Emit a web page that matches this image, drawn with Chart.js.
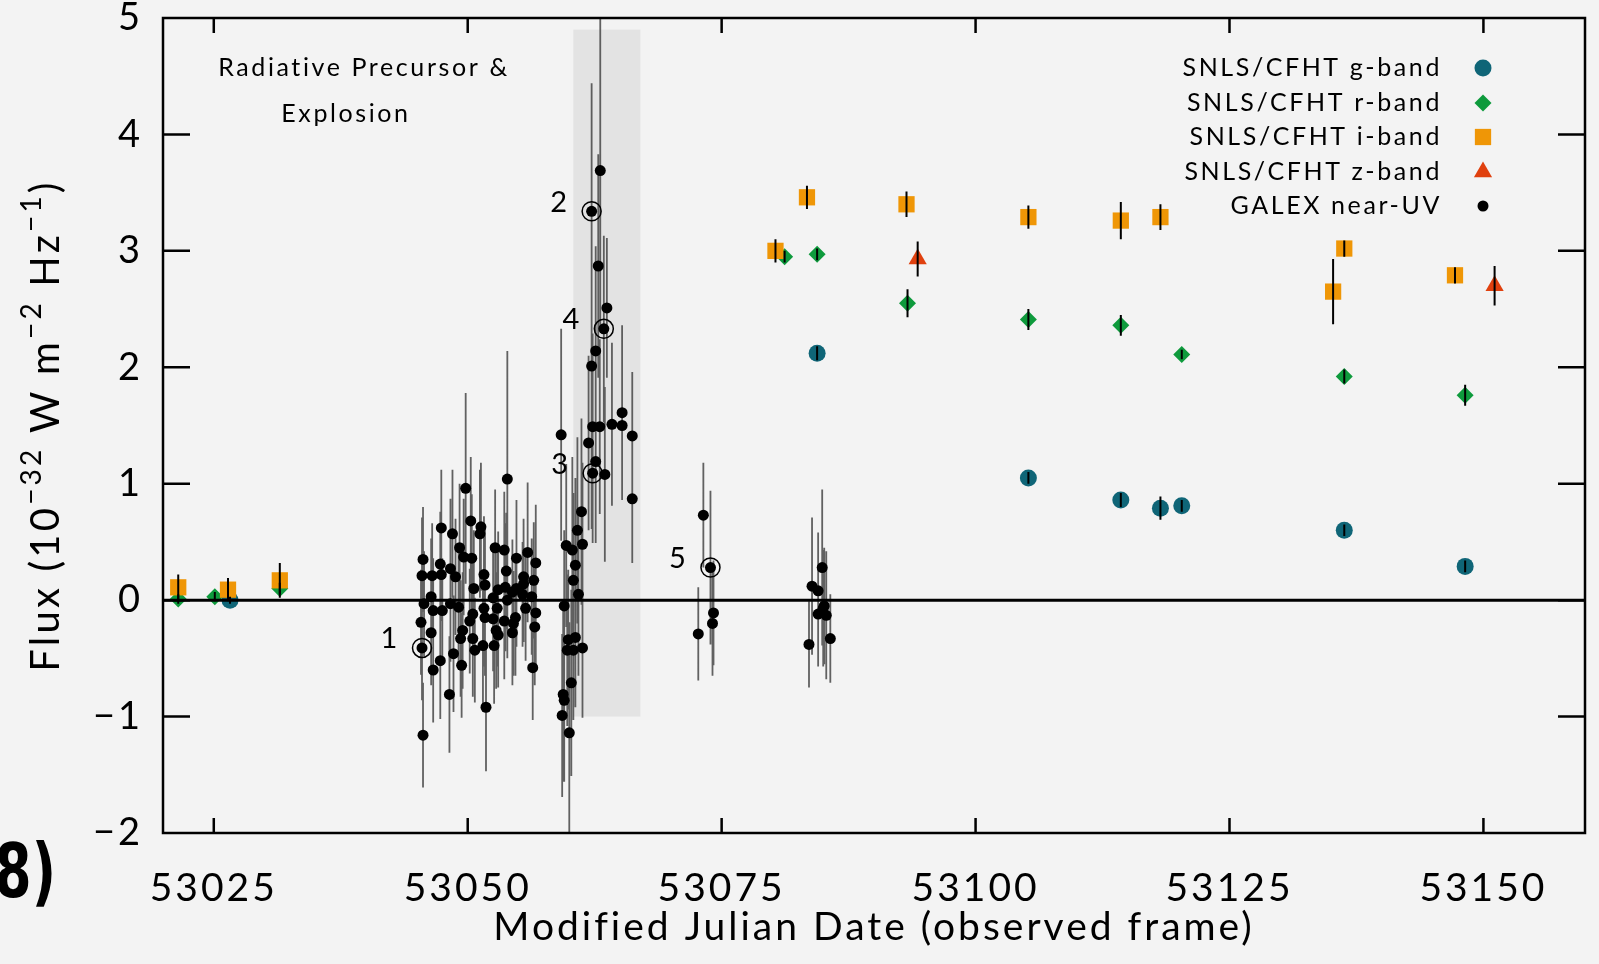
<!DOCTYPE html>
<html>
<head>
<meta charset="utf-8">
<script src="https://cdn.jsdelivr.net/npm/chart.js@4.4.1/dist/chart.umd.min.js"></script>
<style>
    html, body { margin: 0; padding: 0; background: #f3f3f3; }
    #wrap { width: 1599px; height: 964px; }
</style>
</head>
<body>
<div id="wrap"><canvas id="grafico" width="1599" height="964"></canvas></div>
<script>
// eixos
const xTicks = [53025, 53050, 53075, 53100, 53125, 53150];
const yTicks = [-2, -1, 0, 1, 2, 3, 4, 5];

// SNLS/CFHT
const gX = [53026.6, 53084.4, 53105.2, 53114.3, 53118.2, 53120.3, 53136.3, 53148.2];
const gY = [0.00, 2.12, 1.05, 0.86, 0.79, 0.81, 0.60, 0.29];
const gErr = [0.03, 0.06, 0.05, 0.06, 0.10, 0.05, 0.05, 0.05];

const rX = [53021.5, 53025.1, 53031.5, 53081.2, 53084.4, 53093.3, 53105.2, 53114.3, 53120.3, 53136.3, 53148.2];
const rY = [0.01, 0.03, 0.10, 2.95, 2.97, 2.55, 2.41, 2.36, 2.11, 1.92, 1.76];
const rErr = [0.04, 0.04, 0.05, 0.05, 0.05, 0.12, 0.09, 0.09, 0.04, 0.06, 0.09];

const iX = [53021.5, 53026.4, 53031.5, 53080.3, 53083.4, 53093.2, 53105.2, 53114.3, 53118.2, 53135.2, 53136.3, 53147.2];
const iY = [0.11, 0.09, 0.17, 3.00, 3.46, 3.40, 3.29, 3.26, 3.29, 2.65, 3.02, 2.79];
const iErr = [0.11, 0.10, 0.15, 0.10, 0.10, 0.11, 0.10, 0.16, 0.11, 0.28, 0.07, 0.07];

const zX = [53094.3, 53151.1];
const zY = [2.93, 2.70];
const zErr = [0.15, 0.17];

// GALEX near-UV
const uvX = [
    53045.6, 53045.5, 53045.7, 53045.4, 53045.5, 53045.6,
    53046.5, 53046.4, 53046.6, 53046.4, 53046.6,
    53047.4, 53047.3, 53047.4, 53047.5, 53047.3,
    53048.5, 53048.3, 53048.8, 53048.3, 53048.6, 53048.2,
    53049.8, 53049.2, 53049.6, 53049.1, 53049.5, 53049.3, 53049.4,
    53050.3, 53050.4, 53050.6, 53050.5, 53050.2, 53050.5, 53050.7,
    53051.3, 53051.2, 53051.6, 53051.7, 53051.6, 53051.7, 53051.5, 53051.8,
    53052.7, 53053.0, 53052.5, 53052.9, 53052.5, 53052.8, 53053.0, 53052.6,
    53053.9, 53053.6, 53053.8, 53053.7, 53053.9, 53053.6,
    53054.8, 53054.4, 53054.8, 53054.7, 53054.5, 53054.4,
    53055.5, 53055.5, 53055.4, 53055.7, 53055.9,
    53056.7, 53056.5, 53056.3, 53056.7, 53056.6, 53056.4,
    53059.2, 53062.3, 53063.0, 53064.2, 53065.2, 53065.2, 53066.2, 53061.9, 53062.6, 53062.3,
    53063.5, 53066.2, 53061.2, 53060.8, 53059.7, 53060.3, 53061.3, 53060.6, 53060.4, 53060.9,
    53059.5, 53059.9, 53060.6, 53059.8, 53060.4, 53061.3, 53060.2, 53059.4, 53059.5, 53059.3, 53060.0,
    53063.05, 53062.2, 53062.85, 53063.7, 53063.4, 53062.6, 53062.2,
    53073.2, 53073.9, 53074.2, 53074.1, 53072.7,
    53083.6, 53083.9, 53084.5, 53084.9, 53085.1, 53084.5, 53085.3, 53085.7, 53085.0
];
const uvY = [
    0.35, 0.21, -0.03, -0.19, -0.41, -1.16,
    0.21, 0.03, -0.09, -0.28, -0.60,
    0.62, 0.31, 0.22, -0.09, -0.52,
    0.57, 0.27, 0.20, -0.03, -0.46, -0.81,
    0.96, 0.45, 0.37, -0.06, -0.26, -0.33, -0.56,
    0.68, 0.36, 0.10, -0.12, -0.18, -0.33, -0.43,
    0.63, 0.57, 0.22, 0.13, -0.07, -0.15, -0.39, -0.92,
    0.45, 0.09, 0.02, -0.07, -0.16, -0.26, -0.30, -0.39,
    1.04, 0.43, 0.25, 0.11, 0.00, -0.18,
    0.36, 0.07, 0.10, -0.15, -0.20, -0.28,
    0.20, 0.14, 0.05, -0.07, 0.41,
    0.32, 0.17, 0.03, -0.11, -0.23, -0.58,
    1.42, 1.49, 1.49, 1.51, 1.61, 1.50, 1.41, 1.35, 1.19, 1.09,
    1.08, 0.87, 0.76, 0.60, 0.47, 0.43, 0.48, 0.30, 0.17, 0.05,
    -0.05, -0.34, -0.32, -0.43, -0.43, -0.41, -0.71, -0.81, -0.86, -0.99, -1.14,
    3.69, 3.34, 2.87, 2.51, 2.33, 2.14, 2.01,
    0.73, 0.28, -0.11, -0.20, -0.29,
    -0.38, 0.12, 0.08, 0.28, -0.05, -0.12, -0.13, -0.33, -0.07
];
const uvErr = [
    0.45, 0.50, 0.45, 0.45, 0.45, 0.45,
    0.45, 0.50, 0.45, 0.45, 0.45,
    0.50, 0.45, 0.40, 0.45, 0.50,
    0.55, 0.60, 0.50, 0.50, 0.50, 0.50,
    0.82, 0.55, 0.50, 0.50, 0.50, 0.50, 0.45,
    0.55, 0.55, 0.50, 0.50, 0.45, 0.50, 0.45,
    0.55, 0.55, 0.50, 0.50, 0.50, 0.50, 0.50, 0.55,
    0.50, 0.50, 0.45, 0.50, 0.45, 0.50, 0.45, 0.50,
    1.10, 0.50, 0.50, 0.55, 0.50, 0.50,
    0.50, 0.45, 0.50, 0.50, 0.45, 0.45,
    0.50, 0.50, 0.45, 0.45, 0.60,
    0.50, 0.50, 0.50, 0.50, 0.50, 0.45,
    0.91, 0.80, 0.75, 0.70, 0.75, 0.55, 0.55, 0.75, 0.70, 0.60,
    0.75, 0.55, 0.80, 0.80, 0.70, 0.80, 0.70, 0.75, 0.75, 0.70,
    0.65, 0.60, 0.60, 0.65, 0.60, 0.60, 0.80, 0.75, 0.70, 0.70, 0.95,
    1.35, 1.10, 0.96, 0.60, 0.80, 0.90, 1.40,
    0.45, 0.66, 0.45, 0.45, 0.40,
    0.37, 0.59, 0.50, 0.67, 0.50, 0.45, 0.55, 0.38, 0.50
];

// pontos marcados 1-5
const marcX = [53045.5, 53062.2, 53062.3, 53063.4, 53073.9];
const marcY = [-0.41, 3.34, 1.09, 2.33, 0.28];
const marcNome = ['1', '2', '3', '4', '5'];

// faixa cinza
const faixaX = [53060.4, 53067.0];
const faixaY = [-1.0, 4.9];

const FONTE = 'Lato, "DejaVu Sans", sans-serif';

function pontos(xs, ys) {
    return xs.map((v, i) => ({ x: v, y: ys[i] }));
}

function barrasErro(chart, ds, cor, largura) {
    const { ctx, chartArea: a, scales: { x, y } } = chart;
    ctx.save();
    ctx.beginPath();
    ctx.rect(a.left, a.top, a.width, a.height);
    ctx.clip();
    ctx.strokeStyle = cor;
    ctx.lineWidth = largura;
    ctx.beginPath();
    ds.data.forEach((p, i) => {
        const px = x.getPixelForValue(p.x);
        ctx.moveTo(px, y.getPixelForValue(p.y - ds.erros[i]));
        ctx.lineTo(px, y.getPixelForValue(p.y + ds.erros[i]));
    });
    ctx.stroke();
    ctx.restore();
}

const desenhos = {
    id: 'desenhos',
    beforeDraw(chart) {
        const { ctx, scales: { x, y } } = chart;
        // espacamento das letras para os textos do Chart.js (ticks e titulo)
        ctx.letterSpacing = '3px';
        const x0 = x.getPixelForValue(faixaX[0]);
        const x1 = x.getPixelForValue(faixaX[1]);
        const y0 = y.getPixelForValue(faixaY[1]);
        const y1 = y.getPixelForValue(faixaY[0]);
        ctx.save();
        ctx.fillStyle = '#e3e3e3';
        ctx.fillRect(x0, y0, x1 - x0, y1 - y0);
        ctx.restore();
    },
    beforeDatasetsDraw(chart) {
        chart.data.datasets.forEach(ds => {
            if (ds.label === 'GALEX near-UV') barrasErro(chart, ds, 'rgba(70,70,70,0.85)', 1.8);
        });
    },
    afterDatasetsDraw(chart) {
        const { ctx, chartArea: a, scales: { x, y } } = chart;

        chart.data.datasets.forEach(ds => {
            if (ds.label !== 'GALEX near-UV') barrasErro(chart, ds, '#000', 2);
        });

        ctx.save();
        ctx.strokeStyle = '#000';

        // linha do zero
        ctx.lineWidth = 3;
        ctx.beginPath();
        ctx.moveTo(a.left, y.getPixelForValue(0));
        ctx.lineTo(a.right, y.getPixelForValue(0));
        ctx.stroke();

        // moldura
        ctx.lineWidth = 2.5;
        ctx.strokeRect(a.left, a.top, a.right - a.left, a.bottom - a.top);

        // marcas para dentro
        ctx.beginPath();
        x.ticks.forEach(t => {
            const px = x.getPixelForValue(t.value);
            ctx.moveTo(px, a.bottom); ctx.lineTo(px, a.bottom - 15);
            ctx.moveTo(px, a.top); ctx.lineTo(px, a.top + 15);
        });
        y.ticks.forEach(t => {
            if (t.value <= y.min || t.value >= y.max) return;
            const py = y.getPixelForValue(t.value);
            ctx.moveTo(a.left, py); ctx.lineTo(a.left + 27, py);
            ctx.moveTo(a.right, py); ctx.lineTo(a.right - 27, py);
        });
        ctx.stroke();

        // circulos e numeros
        ctx.lineWidth = 1.5;
        ctx.fillStyle = '#000';
        ctx.letterSpacing = '0px';
        ctx.font = '29px ' + FONTE;
        ctx.textAlign = 'center';
        ctx.textBaseline = 'middle';
        marcX.forEach((v, i) => {
            const px = x.getPixelForValue(v);
            const py = y.getPixelForValue(marcY[i]);
            ctx.beginPath();
            ctx.arc(px, py, 9.5, 0, Math.PI * 2);
            ctx.stroke();
            ctx.fillText(marcNome[i], px - 33, py - 9);
        });

        // texto
        ctx.letterSpacing = '2.6px';
        ctx.font = '25px ' + FONTE;
        ctx.fillText('Radiative Precursor &', a.left + 201, a.top + 50);
        ctx.fillText('Explosion', a.left + 183, a.top + 96);

        // legenda
        const linhas = [50, 85, 119, 154, 188];
        ctx.textAlign = 'right';
        chart.data.datasets.forEach((ds, i) => {
            const ly = a.top + linhas[i];
            ctx.fillStyle = '#000';
            ctx.fillText(ds.label, a.right - 143, ly);
            ctx.fillStyle = ds.backgroundColor;
            Chart.helpers.drawPoint(ctx, {
                pointStyle: ds.pointStyle,
                radius: ds.pointRadius,
                rotation: 0,
                borderWidth: 0
            }, a.right - 102, ly);
        });

        // titulo do eixo y com expoentes
        const partes = [['Flux (10', 0], ['−32', 1], [' W m', 0], ['−2', 1], [' Hz', 0], ['−1', 1], [')', 0]];
        const fN = '40px ' + FONTE, fS = '28px ' + FONTE;
        ctx.letterSpacing = '3.2px';
        let total = 0;
        partes.forEach(p => { ctx.font = p[1] ? fS : fN; total += ctx.measureText(p[0]).width; });
        ctx.translate(46, (a.top + a.bottom) / 2);
        ctx.rotate(-Math.PI / 2);
        ctx.textAlign = 'left';
        ctx.fillStyle = '#000';
        let cx = -total / 2;
        partes.forEach(p => {
            ctx.font = p[1] ? fS : fN;
            ctx.fillText(p[0], cx, p[1] ? -14 : 0);
            cx += ctx.measureText(p[0]).width;
        });
        ctx.restore();

        // rotulo do painel
        ctx.save();
        ctx.letterSpacing = '0px';
        ctx.fillStyle = '#000';
        ctx.font = 'bold 74px "DejaVu Sans", sans-serif';
        ctx.textAlign = 'right';
        ctx.textBaseline = 'middle';
        ctx.translate(56, 878);
        ctx.scale(0.72, 1);
        ctx.fillText('8)', 0, 0);
        ctx.restore();
    }
};

const ctx = document.getElementById('grafico');

new Chart(ctx, {
    type: 'scatter',
    data: {
        datasets: [
            {
                label: 'SNLS/CFHT g-band',
                data: pontos(gX, gY),
                erros: gErr,
                backgroundColor: '#0f6577',
                pointStyle: 'circle',
                pointRadius: 8.5,
                borderWidth: 0,
                order: 3
            },
            {
                label: 'SNLS/CFHT r-band',
                data: pontos(rX, rY),
                erros: rErr,
                backgroundColor: '#0e9a3c',
                pointStyle: 'rectRot',
                pointRadius: 8.5,
                borderWidth: 0,
                order: 2
            },
            {
                label: 'SNLS/CFHT i-band',
                data: pontos(iX, iY),
                erros: iErr,
                backgroundColor: '#ef9606',
                pointStyle: 'rect',
                pointRadius: 11.5,
                borderWidth: 0,
                order: 0
            },
            {
                label: 'SNLS/CFHT z-band',
                data: pontos(zX, zY),
                erros: zErr,
                backgroundColor: '#e0400e',
                pointStyle: 'triangle',
                pointRadius: 10.5,
                borderWidth: 0,
                order: 1
            },
            {
                label: 'GALEX near-UV',
                data: pontos(uvX, uvY),
                erros: uvErr,
                backgroundColor: '#000',
                pointStyle: 'circle',
                pointRadius: 5.5,
                borderWidth: 0,
                order: 4
            }
        ]
    },
    options: {
        responsive: false,
        animation: false,
        devicePixelRatio: 1,
        layout: { padding: { left: 0, top: 18, right: 14, bottom: 0 } },
        plugins: {
            legend: { display: false },
            tooltip: { enabled: false }
        },
        scales: {
            x: {
                type: 'linear',
                min: 53020,
                max: 53160,
                afterBuildTicks: s => { s.ticks = xTicks.map(v => ({ value: v })); },
                afterFit: s => { s.height = 131; s.paddingLeft = 0; s.paddingRight = 0; },
                grid: { display: false },
                border: { display: false },
                ticks: {
                    color: '#000',
                    font: { family: FONTE, size: 39 },
                    padding: 24,
                    maxRotation: 0,
                    autoSkip: false,
                    callback: v => String(v)
                },
                title: {
                    display: true,
                    text: 'Modified Julian Date (observed frame)',
                    color: '#000',
                    font: { family: FONTE, size: 39 },
                    padding: { top: 0, bottom: 13 }
                }
            },
            y: {
                min: -2,
                max: 5,
                afterBuildTicks: s => { s.ticks = yTicks.map(v => ({ value: v })); },
                afterFit: s => { s.width = 163; s.paddingTop = 0; s.paddingBottom = 0; },
                grid: { display: false },
                border: { display: false },
                ticks: {
                    color: '#000',
                    font: { family: FONTE, size: 38 },
                    padding: 12,
                    callback: v => String(v).replace('-', '−')
                }
            }
        }
    },
    plugins: [desenhos]
});
</script>
</body>
</html>
